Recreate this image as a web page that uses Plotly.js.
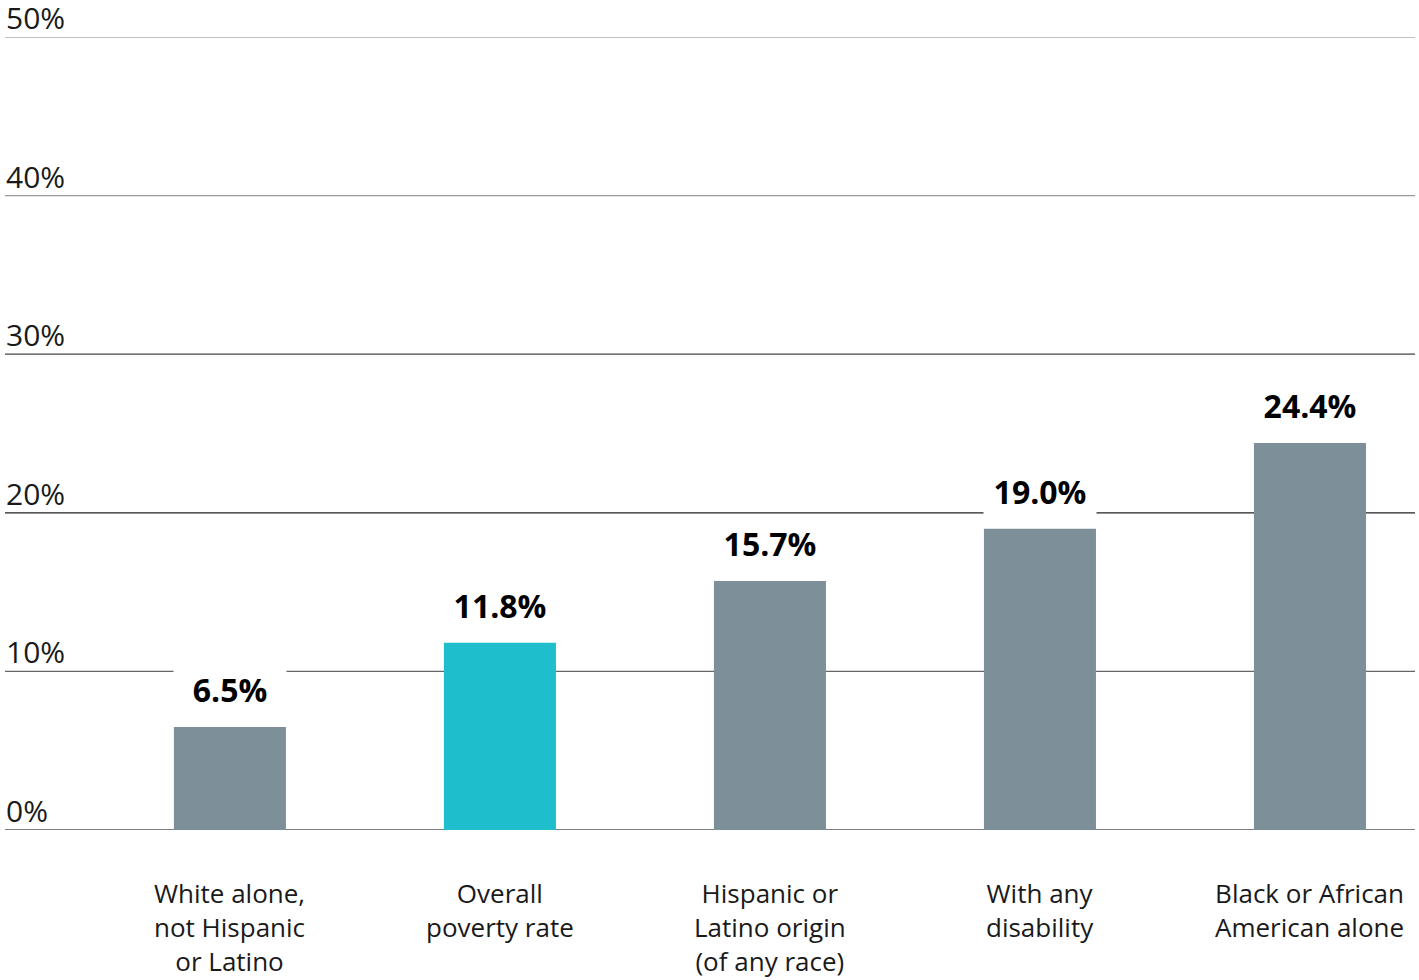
<!DOCTYPE html>
<html>
<head>
<meta charset="utf-8">
<script src="https://cdn.plot.ly/plotly-3.0.1.min.js"></script>
<style>html,body{margin:0;padding:0;background:#fff;}#chart{width:1419px;height:980px;}</style>
</head>
<body>
<div id="chart"></div>
<script>
const categories = ["White alone,<br>not Hispanic<br>or Latino", "Overall<br>poverty rate", "Hispanic or<br>Latino origin<br>(of any race)", "With any<br>disability", "Black or African<br>American alone"];
const values = [6.5, 11.8, 15.7, 19.0, 24.4];
const valueLabels = ["6.5%", "11.8%", "15.7%", "19.0%", "24.4%"];
const barColors = ["#7d909a", "#1fbecc", "#7d909a", "#7d909a", "#7d909a"];
const tickVals = [0, 10, 20, 30, 40, 50];
const tickText = ["0%", "10%", "20%", "30%", "40%", "50%"];
const gridColors = ["#555", "#666", "#222", "#444", "#999", "#aaa"];

const FONT = "'Open Sans', Lato, sans-serif";
const xIdx = categories.map((_, i) => i);

const trace = {
  type: "bar",
  x: xIdx,
  y: values,
  width: 0.415,
  marker: {color: barColors, line: {width: 0}},
  hoverinfo: "skip"
};

const shapes = tickVals.map((t, k) => ({
  type: "line", xref: "paper", x0: 0, x1: 1, yref: "y", y0: t, y1: t,
  layer: "below", line: {color: gridColors[k], width: 1.3}
}));

const annotations = [];
values.forEach((v, i) => {
  annotations.push({
    x: i, y: v, xref: "x", yref: "y",
    text: "<b>" + valueLabels[i] + "</b>",
    showarrow: false, yanchor: "bottom", yshift: 13,
    font: {family: FONT, size: 32, color: "#000"},
    bgcolor: "#fff", width: 108, borderpad: 2
  });
  annotations.push({
    x: i, y: 0, xref: "x", yref: "y",
    text: categories[i], showarrow: false, yanchor: "top",
    yshift: -43,
    font: {family: FONT, size: 26, color: "#1a1a1a"}
  });
});
tickVals.forEach((t, k) => {
  annotations.push({
    x: 0, xref: "paper", y: t, yref: "y",
    xanchor: "left", yanchor: "bottom", yshift: -2, borderpad: 0,
    text: tickText[k], showarrow: false,
    font: {family: FONT, size: 30, color: "#1a1a1a"}
  });
});

const layout = {
  width: 1419, height: 980,
  margin: {l: 5, r: 4, t: 37, b: 150, pad: 0},
  paper_bgcolor: "#fff", plot_bgcolor: "#fff",
  showlegend: false,
  xaxis: {range: [-0.833, 4.389], showticklabels: false, showgrid: false, zeroline: false, ticks: "", fixedrange: true},
  yaxis: {range: [0, 50], showticklabels: false, showgrid: false, zeroline: false, ticks: "", fixedrange: true},
  shapes: shapes,
  annotations: annotations
};

Plotly.newPlot("chart", [trace], layout, {displayModeBar: false, staticPlot: true});
</script>
</body>
</html>
